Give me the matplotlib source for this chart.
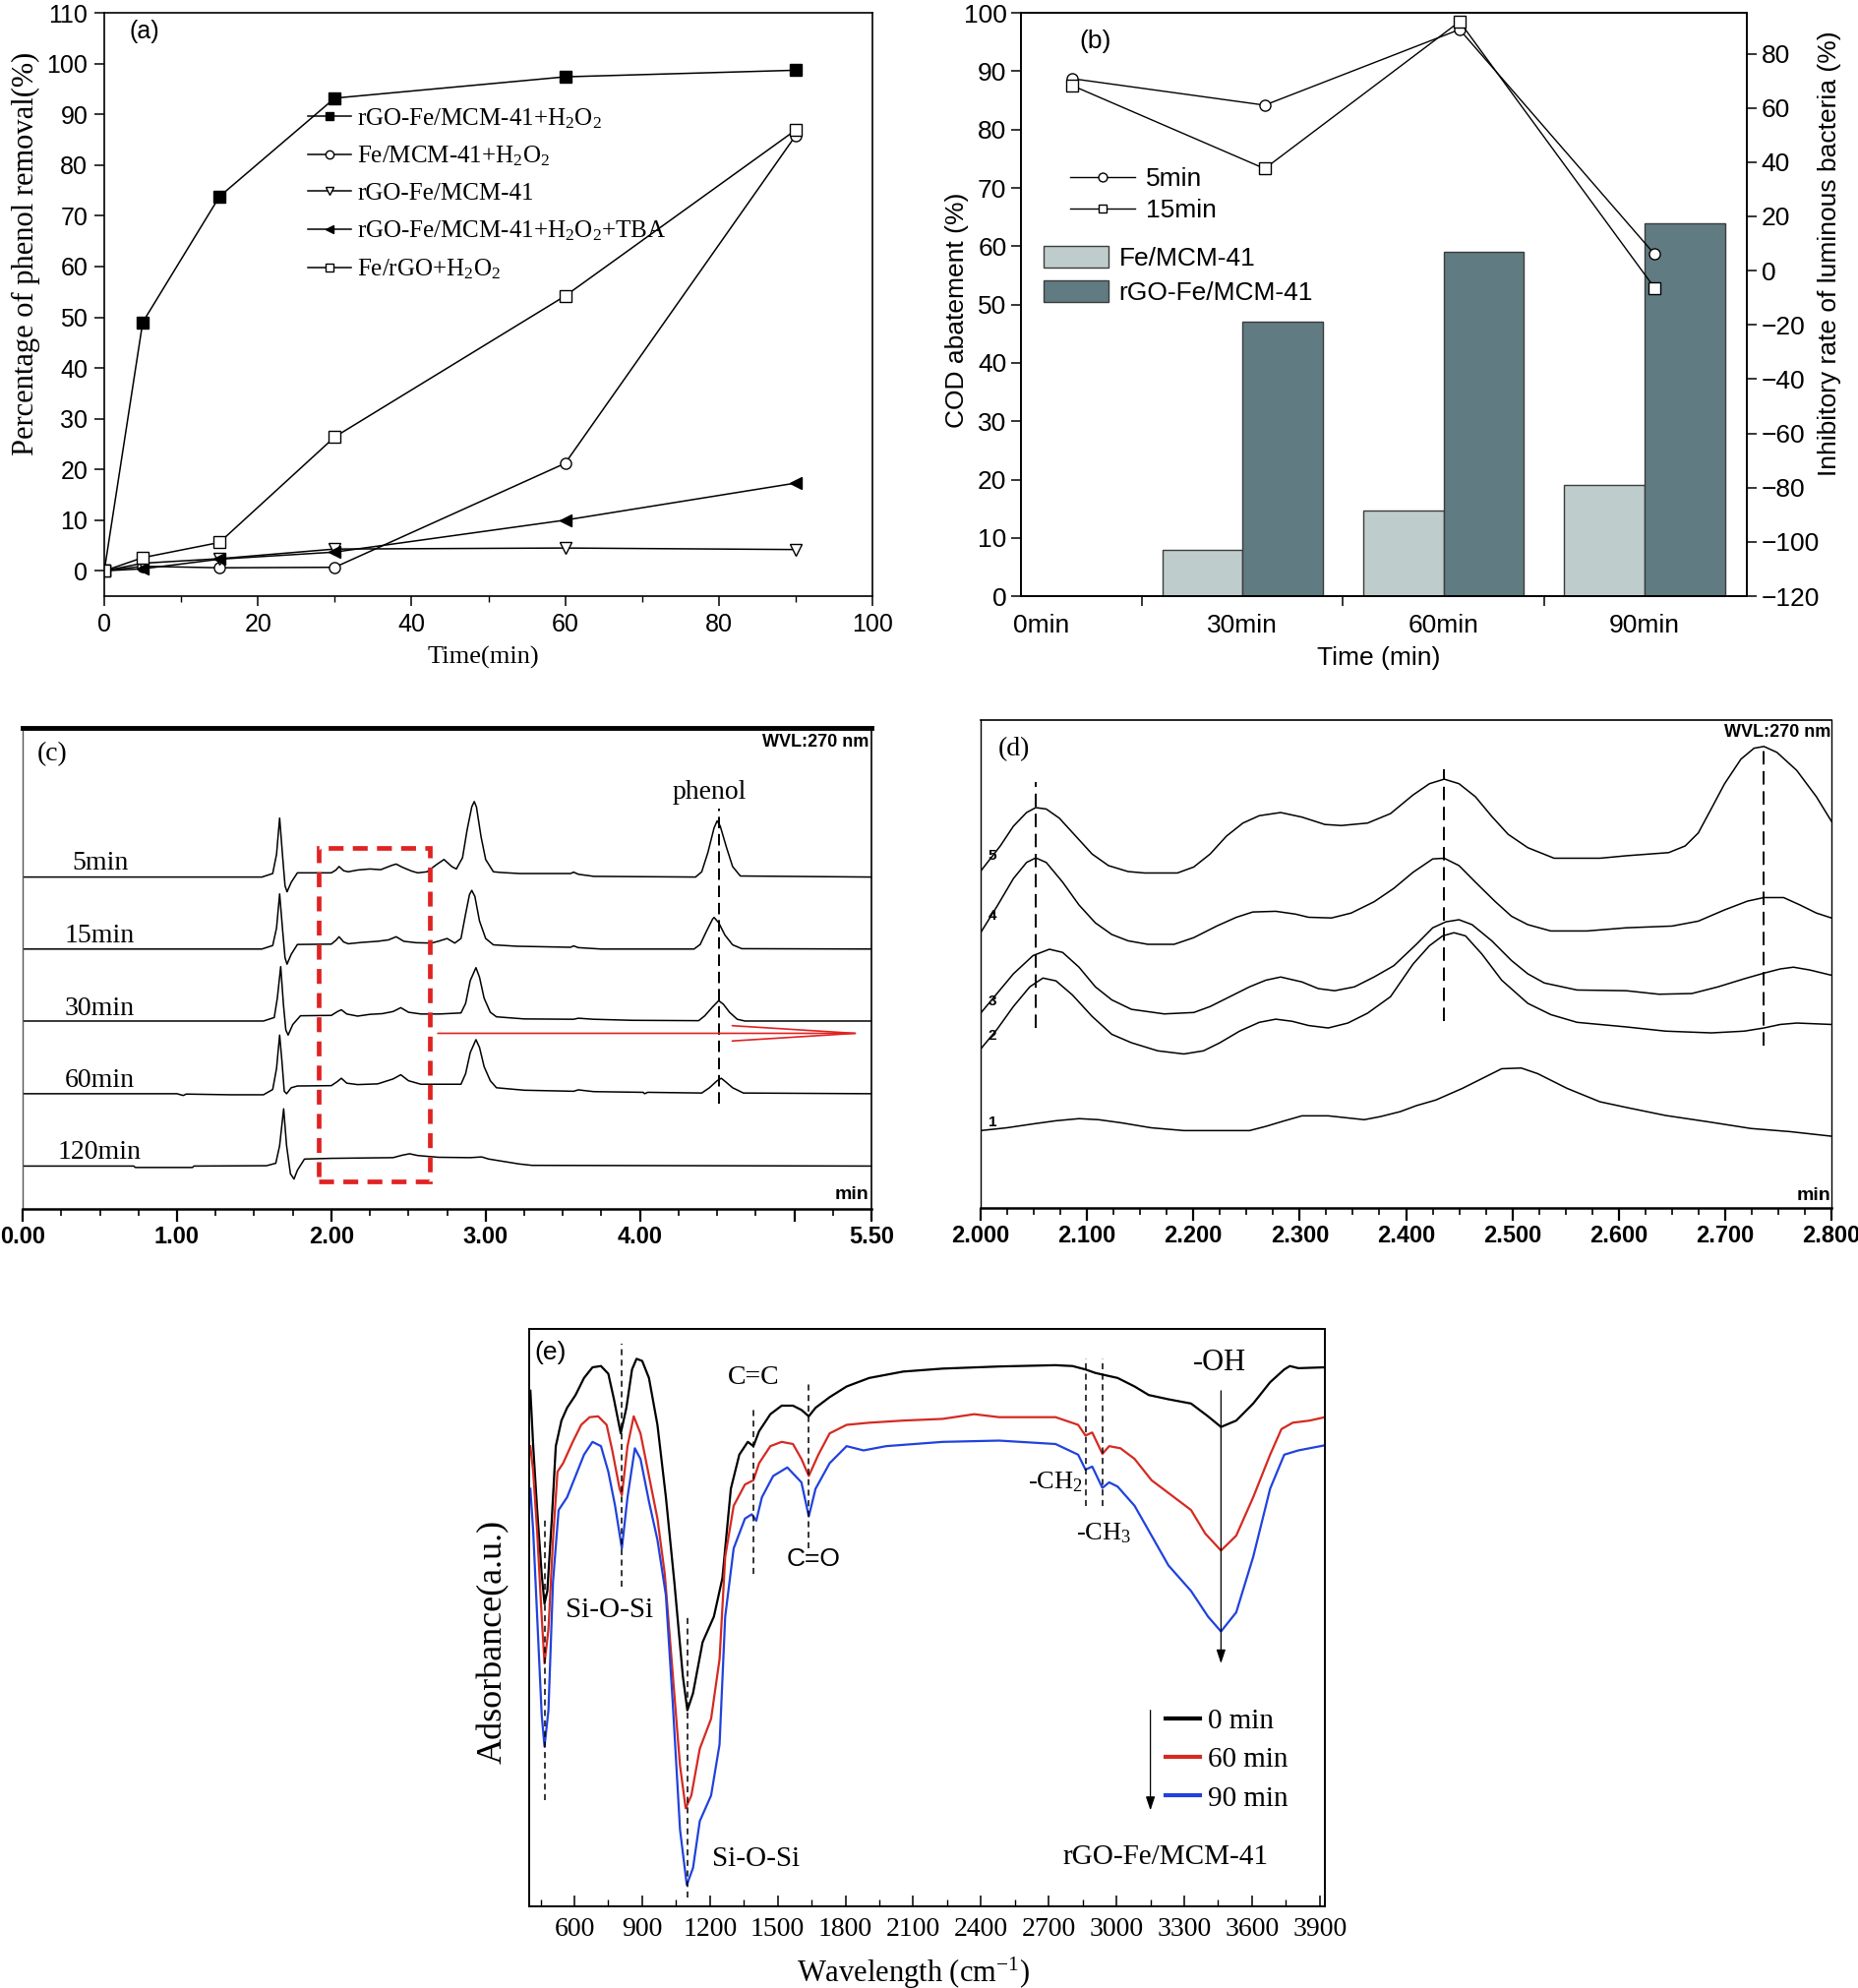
import numpy as np
import matplotlib
matplotlib.use("Agg")
import matplotlib.pyplot as plt
from matplotlib.patches import Rectangle
from matplotlib.lines import Line2D

plt.rcParams['font.family'] = ['Liberation Sans', 'DejaVu Sans']
plt.rcParams['mathtext.fontset'] = 'custom'
plt.rcParams['mathtext.rm'] = 'Liberation Serif'
plt.rcParams['mathtext.it'] = 'Liberation Serif:italic'
plt.rcParams['axes.linewidth'] = 1.2

SERIF = ['Liberation Serif', 'DejaVu Serif']
NARROW = ['Liberation Sans Narrow', 'Liberation Sans', 'DejaVu Sans']

# ---------------- (a) phenol removal ----------------
time_a = [0, 5, 15, 30, 60, 90]
removal_rgo_h2o2 = [0, 49.0, 73.8, 93.2, 97.4, 98.7]
removal_fe_h2o2 = [0, 0.9, 0.6, 0.7, 21.2, 85.8]
removal_rgo = [0, 1.5, 2.4, 4.3, 4.5, 4.2]
removal_rgo_tba = [0, 0.4, 2.3, 3.7, 10.0, 17.3]
removal_fe_rgo_h2o2 = [0, 2.6, 5.6, 26.4, 54.2, 86.9]
a_names = ['rGO-Fe/MCM-41+H$_2$O$_2$', 'Fe/MCM-41+H$_2$O$_2$', 'rGO-Fe/MCM-41',
           'rGO-Fe/MCM-41+H$_2$O$_2$+TBA', 'Fe/rGO+H$_2$O$_2$']

# ---------------- (b) COD + toxicity ----------------
b_categories = ['0min', '30min', '60min', '90min']
cod_fe = [0, 8.0, 14.7, 19.0]
cod_rgo = [0, 47.0, 59.0, 64.0]
tox_x = [0.15, 1.11, 2.08, 3.05]
tox_5min = [70.8, 61.0, 88.9, 6.1]
tox_15min = [68.3, 37.6, 91.8, -6.3]

# ---------------- (c) HPLC chromatograms (time min, signal) ----------------
c_labels = ['5min', '15min', '30min', '60min', '120min']
c_5min = [(0, 94.5), (1.55, 94.5), (1.62, 95.5), (1.645, 101), (1.665, 111.3), (1.685, 100), (1.70, 92),
          (1.713, 90.3), (1.74, 93), (1.78, 95.7), (2.00, 95.7), (2.03, 96.5), (2.05, 97.5), (2.08, 96.3),
          (2.11, 96.0), (2.17, 96.5), (2.25, 96.8), (2.32, 96.6), (2.39, 97.8), (2.42, 98.2), (2.46, 97.3),
          (2.52, 96.2), (2.56, 95.7), (2.62, 96.0), (2.68, 98.0), (2.73, 99.5), (2.78, 97.5), (2.81, 96.8),
          (2.85, 100), (2.88, 108), (2.91, 114.5), (2.926, 116), (2.94, 114.5), (2.97, 106), (3.00, 99.5),
          (3.05, 96.0), (3.10, 95.8), (3.22, 95.5), (3.55, 95.5), (3.57, 95.9), (3.60, 95.3), (3.70, 94.7),
          (4.36, 94.5), (4.40, 96.0), (4.44, 101.5), (4.48, 108.5), (4.50, 110.5), (4.52, 109), (4.56, 103),
          (4.60, 97.5), (4.65, 94.8), (5.5, 94.5)]
c_15min = [(0, 74), (1.55, 74), (1.62, 75), (1.645, 80), (1.665, 89.7), (1.685, 79), (1.70, 71.5), (1.713, 69.7),
           (1.74, 72.5), (1.78, 75.3), (2.00, 75.4), (2.03, 76.5), (2.05, 77.5), (2.08, 76.0), (2.11, 75.5),
           (2.20, 75.9), (2.30, 76.2), (2.37, 76.6), (2.42, 77.5), (2.47, 76.2), (2.55, 75.8), (2.65, 75.7),
           (2.70, 76.3), (2.75, 77.0), (2.80, 75.7), (2.84, 77), (2.87, 84), (2.895, 89.5), (2.91, 90.7),
           (2.93, 89), (2.96, 82), (3.00, 77.0), (3.05, 75.2), (3.20, 74.8), (3.55, 74.5), (3.57, 74.9),
           (3.60, 74.4), (3.75, 74.0), (4.35, 74.0), (4.39, 75.3), (4.43, 79), (4.47, 82.5), (4.48, 83.0),
           (4.51, 81.5), (4.55, 78), (4.60, 75.2), (4.66, 74.1), (5.5, 74.0)]
c_30min = [(0, 53.5), (1.56, 53.5), (1.63, 54.5), (1.65, 60), (1.672, 69.0), (1.69, 58), (1.705, 51), (1.72, 49.5),
           (1.75, 52.5), (1.80, 55.0), (2.00, 55.1), (2.04, 56.2), (2.065, 56.7), (2.10, 55.5), (2.17, 54.9),
           (2.25, 55.4), (2.33, 55.6), (2.40, 56.2), (2.45, 57.3), (2.50, 56.0), (2.58, 55.5), (2.70, 55.5),
           (2.84, 55.8), (2.87, 58.5), (2.90, 65), (2.937, 68.7), (2.96, 66), (2.99, 60), (3.03, 56.0),
           (3.07, 54.7), (3.25, 54.1), (3.57, 54.0), (3.60, 54.3), (3.70, 54.0), (3.95, 53.7), (4.38, 53.6),
           (4.42, 55.0), (4.47, 57.5), (4.51, 59.3), (4.54, 58.3), (4.58, 56.0), (4.63, 54.0), (4.68, 53.5),
           (5.5, 53.5)]
c_60min = [(0, 32.8), (1.0, 32.8), (1.04, 32.3), (1.06, 32.7), (1.35, 32.5), (1.56, 32.5), (1.62, 34), (1.645, 40),
           (1.665, 49.5), (1.68, 42), (1.695, 33.5), (1.71, 32.8), (1.74, 34.5), (1.78, 35.0), (2.00, 35.1),
           (2.04, 36.3), (2.065, 37.2), (2.10, 35.8), (2.17, 35.4), (2.30, 35.6), (2.40, 37.0), (2.45, 38.2),
           (2.50, 36.5), (2.58, 35.5), (2.84, 35.5), (2.87, 38.5), (2.90, 44.5), (2.937, 48.2), (2.96, 46),
           (2.99, 40.5), (3.03, 36.5), (3.07, 34.5), (3.25, 33.8), (3.57, 33.5), (3.60, 33.9), (3.70, 33.4),
           (4.02, 33.2), (4.03, 32.8), (4.05, 33.2), (4.40, 33.0), (4.45, 34.5), (4.50, 36.5), (4.527, 37.2),
           (4.56, 36.0), (4.60, 34.5), (4.67, 33.0), (5.5, 32.8)]
c_120min = [(0, 12.2), (0.72, 12.2), (0.73, 11.8), (1.10, 11.8), (1.11, 12.2), (1.58, 12.3), (1.64, 13.0),
            (1.665, 18), (1.691, 28.5), (1.71, 18), (1.735, 10), (1.758, 8.5), (1.78, 11), (1.826, 14.2),
            (2.00, 14.4), (2.40, 14.6), (2.46, 15.3), (2.507, 15.7), (2.56, 15.2), (2.694, 14.7), (2.90, 14.6),
            (2.974, 14.8), (3.02, 14.2), (3.217, 12.8), (3.30, 12.4), (5.5, 12.2)]
c_traces = [c_5min, c_15min, c_30min, c_60min, c_120min]
c_label_y = [98.5, 77.7, 57.0, 36.5, 16.0]

# ---------------- (d) zoomed chromatograms ----------------
d_labels = ['5', '4', '3', '2', '1']
d_5 = [(2.000, 95.8), (2.0185, 103.0), (2.0308, 108.6), (2.0432, 112.5), (2.0518, 113.9), (2.0617, 113.5),
       (2.074, 110.9), (2.0894, 105.8), (2.1048, 100.7), (2.1202, 97.4), (2.1387, 95.7), (2.1541, 95.3),
       (2.185, 95.3), (2.2004, 97.0), (2.2158, 100.7), (2.2312, 105.8), (2.2466, 109.5), (2.262, 111.6),
       (2.2821, 112.5), (2.3021, 111.2), (2.3237, 109.1), (2.3391, 108.8), (2.3638, 109.5), (2.3854, 112.2),
       (2.4066, 117.5), (2.422, 120.7), (2.4359, 122.0), (2.4498, 120.7), (2.4652, 117.0), (2.4806, 111.4),
       (2.496, 106.3), (2.5145, 102.5), (2.5392, 99.5), (2.5823, 99.5), (2.607, 100.2), (2.647, 101.1),
       (2.6625, 103.0), (2.6748, 106.7), (2.6872, 113.7), (2.6995, 120.7), (2.7149, 127.7), (2.7272, 130.8),
       (2.7365, 131.3), (2.7488, 129.6), (2.7673, 124.5), (2.7858, 117.0), (2.800, 110.0)]
d_4 = [(2.000, 78.3), (2.0154, 85.8), (2.0308, 93.7), (2.0432, 98.3), (2.0518, 99.6), (2.0617, 98.3),
       (2.0771, 92.7), (2.0925, 86.2), (2.1079, 81.1), (2.1233, 77.8), (2.1387, 76.0), (2.1572, 75.0),
       (2.1819, 75.0), (2.2004, 76.9), (2.222, 80.2), (2.2405, 82.7), (2.2559, 84.2), (2.2775, 84.4),
       (2.296, 83.6), (2.3083, 82.7), (2.3299, 82.5), (2.3484, 83.9), (2.3699, 87.1), (2.3884, 90.9),
       (2.4066, 95.5), (2.4251, 99.3), (2.4359, 99.5), (2.4498, 97.4), (2.4652, 92.7), (2.4837, 87.2),
       (2.4991, 83.0), (2.5145, 80.6), (2.5361, 78.8), (2.57, 78.8), (2.607, 79.7), (2.6502, 80.2),
       (2.6748, 81.6), (2.6995, 84.8), (2.7211, 87.3), (2.7365, 88.3), (2.755, 88.3), (2.7704, 86.2),
       (2.7858, 83.9), (2.800, 82.5)]
d_3 = [(2.000, 55.4), (2.0154, 61.0), (2.0308, 66.6), (2.0493, 71.8), (2.0647, 73.6), (2.0771, 72.7),
       (2.0925, 68.5), (2.1079, 62.9), (2.1233, 59.2), (2.1418, 56.5), (2.1726, 55.2), (2.2004, 55.6),
       (2.2158, 57.3), (2.2343, 60.1), (2.2528, 62.9), (2.2682, 64.8), (2.2821, 65.7), (2.3021, 64.3),
       (2.3175, 62.4), (2.3329, 61.8), (2.3515, 62.9), (2.3699, 65.7), (2.3884, 68.9), (2.4097, 75.0),
       (2.4251, 79.7), (2.4374, 81.4), (2.4498, 82.0), (2.4621, 80.6), (2.4806, 76.0), (2.4991, 70.4),
       (2.5145, 66.6), (2.53, 64.0), (2.5608, 62.0), (2.607, 61.8), (2.6378, 60.8), (2.6687, 61.0),
       (2.6933, 62.9), (2.718, 65.2), (2.7365, 66.8), (2.7519, 68.0), (2.7642, 68.5), (2.7796, 67.7),
       (2.800, 66.2)]
d_2 = [(2.000, 45.2), (2.0154, 50.8), (2.0308, 57.3), (2.0462, 62.9), (2.0586, 65.4), (2.0709, 64.6),
       (2.0863, 60.6), (2.1048, 54.5), (2.1233, 49.4), (2.1418, 47.0), (2.1665, 44.7), (2.1911, 43.8),
       (2.2096, 44.7), (2.225, 47.0), (2.2435, 50.3), (2.262, 52.8), (2.2775, 53.7), (2.2929, 53.1),
       (2.3083, 51.9), (2.3268, 51.2), (2.3453, 52.6), (2.3638, 55.4), (2.3854, 60.1), (2.4066, 69.4),
       (2.422, 74.6), (2.4344, 77.4), (2.4451, 78.3), (2.4559, 77.4), (2.4714, 72.2), (2.4899, 64.8),
       (2.5145, 58.2), (2.5361, 55.0), (2.5608, 52.8), (2.607, 51.5), (2.644, 50.3), (2.6872, 49.8),
       (2.718, 50.3), (2.7365, 51.2), (2.7519, 52.2), (2.7673, 52.6), (2.800, 52.2)]
d_1 = [(2.000, 22.0), (2.0247, 22.8), (2.0493, 23.9), (2.0709, 24.8), (2.0925, 25.4), (2.111, 25.1),
       (2.1326, 24.2), (2.1603, 22.8), (2.1911, 22.0), (2.2528, 22.0), (2.2682, 23.2), (2.2836, 24.6),
       (2.3021, 26.2), (2.3268, 26.2), (2.3453, 25.6), (2.3607, 25.1), (2.3761, 26.0), (2.3946, 27.4),
       (2.4097, 29.1), (2.428, 30.7), (2.4529, 34.0), (2.4714, 36.8), (2.4899, 39.6), (2.5083, 39.8),
       (2.5238, 38.2), (2.5515, 34.0), (2.5823, 30.2), (2.607, 28.6), (2.644, 26.3), (2.6841, 24.5),
       (2.7242, 22.6), (2.7611, 21.7), (2.800, 20.4)]
d_traces = [d_5, d_4, d_3, d_2, d_1]
d_label_y = [100.2, 83.0, 58.7, 48.9, 24.2]
d_marks = [(2.0518, 51.2, 121.2), (2.4359, 53.1, 124.9), (2.7359, 46.3, 131.9)]

# ---------------- (e) FTIR ----------------
e_0min = [(405, 121), (417.5, 108), (435, 93), (455, 78), (467.5, 71), (480, 74), (500, 91), (517.5, 108),
          (542.5, 114), (567.5, 117), (605, 120), (642.5, 124), (680, 126.5), (717.5, 126.8), (750, 125),
          (775, 119), (805, 111), (830, 117), (855, 126), (875, 128.5), (900, 128), (930, 124), (967.5, 113),
          (1005, 96), (1042.5, 76), (1080, 54), (1100, 46), (1125, 50), (1167.5, 62), (1217.5, 68), (1255, 77),
          (1292.5, 98), (1330, 106), (1367.5, 109), (1392.5, 108), (1417.5, 111.5), (1467.5, 115.5),
          (1517.5, 117.5), (1567.5, 117.5), (1605, 116.5), (1637.5, 115), (1667.5, 117), (1730, 119.5),
          (1805, 122), (1905, 124), (2055, 125.5), (2230, 126.2), (2480, 126.7), (2730, 127), (2805, 126.8),
          (2862.5, 126), (2905, 125.2), (2937.5, 124.8), (3005, 124), (3080, 122), (3142.5, 120), (3230, 119),
          (3330, 118), (3405, 115), (3462.5, 112.5), (3530, 114), (3605, 118), (3680, 123), (3742.5, 126),
          (3767.5, 126.8), (3805, 126.3), (3922.5, 126.5)]
e_60min = [(405, 108), (417.5, 102), (435, 88), (455, 68), (467.5, 57), (485, 65), (505, 86), (525, 102),
           (550, 104), (592.5, 109), (630, 113), (667.5, 114.8), (705, 115), (742.5, 113), (767.5, 107), (800, 98),
           (810, 96.5), (835, 108), (862.5, 115), (892.5, 111), (930, 101), (967.5, 91), (1000, 78), (1030, 58),
           (1067.5, 33), (1092.5, 23), (1117.5, 26), (1155, 37), (1205, 44), (1242.5, 58), (1267.5, 82),
           (1305, 94), (1355, 99), (1392.5, 100), (1417.5, 104), (1467.5, 108), (1517.5, 109), (1567.5, 108.5),
           (1605, 105), (1637.5, 101), (1680, 106), (1730, 111), (1805, 113), (1905, 113.5), (2055, 114),
           (2230, 114.4), (2370, 115.5), (2480, 114.8), (2730, 114.8), (2830, 113), (2862.5, 110.5),
           (2892.5, 111.2), (2937.5, 106.2), (2967.5, 108), (3017.5, 107.5), (3080, 105), (3155, 100),
           (3255, 96), (3330, 93), (3392.5, 87.5), (3462.5, 83.5), (3530, 87), (3605, 96), (3680, 106),
           (3730, 112), (3780, 113.5), (3855, 114), (3922.5, 114.8)]
e_90min = [(405, 98), (417.5, 88), (435, 68), (455, 45), (467.5, 37.5), (485, 46), (505, 76), (530, 93),
           (567.5, 96), (605, 101), (642.5, 106), (680, 109), (717.5, 108), (750, 102), (780, 94), (810, 84),
           (835, 96), (867.5, 107.5), (892.5, 105), (930, 95), (967.5, 86), (1005, 73), (1035, 48), (1067.5, 18),
           (1097.5, 5), (1125, 9), (1155, 20), (1205, 26), (1242.5, 38), (1267.5, 68), (1305, 84), (1355, 91),
           (1385, 92), (1405, 90.5), (1430, 96), (1480, 101), (1542.5, 103), (1605, 99.5), (1637.5, 91.5),
           (1667.5, 98), (1730, 104), (1805, 108), (1880, 107), (1980, 108), (2230, 109), (2480, 109.3),
           (2730, 108.5), (2830, 106), (2862.5, 102.5), (2892.5, 103.2), (2937.5, 98.2), (2967.5, 99.5),
           (3005, 98.5), (3080, 94), (3155, 87), (3230, 80), (3330, 74), (3405, 68), (3462.5, 64.5), (3530, 69),
           (3605, 82), (3680, 98), (3742.5, 106), (3805, 107), (3922.5, 108.2)]
e_spectra = [(e_0min, 'black', '0 min'), (e_60min, '#d42a22', '60 min'), (e_90min, '#2142dc', '90 min')]
e_marks = [(467.5, 25, 91.5), (810, 75, 132), (1100, 2, 68.5), (1392.5, 78, 117), (1637.5, 84, 123.5),
           (2862.5, 94, 128.5), (2937.5, 94, 128.5)]
e_ticks = [600, 900, 1200, 1500, 1800, 2100, 2400, 2700, 3000, 3300, 3600, 3900]

fig = plt.figure(figsize=(18.9, 20.21), dpi=100)

# =============== (a) ===============
axa = fig.add_axes([0.0561, 0.7001, 0.4132, 0.2934])
a_series = [(removal_rgo_h2o2, 's', 'black'), (removal_fe_h2o2, 'o', 'white'), (removal_rgo, 'v', 'white'),
            (removal_rgo_tba, '<', 'black'), (removal_fe_rgo_h2o2, 's', 'white')]
a_handles = []
for (vals, mk, face), name in zip(a_series, a_names):
    axa.plot(time_a, vals, '-', marker=mk, color='black', mfc=face, ms=8, lw=1.1)
    a_handles.append(Line2D([], [], color='black', lw=1.1, marker=mk, mfc=face, ms=6, label=name))
axa.set_xlim(0, 100)
axa.set_ylim(-5, 110)
axa.set_xticks(range(0, 101, 20))
axa.set_xticks(range(10, 100, 20), minor=True)
axa.set_yticks(range(0, 111, 10))
axa.tick_params(which='major', direction='out', length=7, width=1.1, labelsize=18, pad=5)
axa.tick_params(which='minor', direction='out', length=4, width=1.0)
axa.set_xlabel('Time(min)', family=SERIF, fontsize=19)
axa.set_ylabel('Percentage of phenol removal(%)', family=SERIF, fontsize=22)
axa.xaxis.set_label_coords(0.493, -0.086)
axa.yaxis.set_label_coords(-0.083, 0.587)
axa.text(0.032, 0.968, '(a)', transform=axa.transAxes, fontsize=18, va='center', ha='left')
axa.legend(handles=a_handles, loc='upper left', bbox_to_anchor=(0.265, 0.84), frameon=False, borderpad=0,
           borderaxespad=0, prop={'family': SERIF, 'size': 18}, handlelength=1.75, handletextpad=0.25,
           labelspacing=0.57, numpoints=1)

# =============== (b) ===============
axb = fig.add_axes([0.5492, 0.7001, 0.3905, 0.2934])
xb = np.arange(len(b_categories))
axb.bar(xb - 0.2, cod_fe, width=0.4, color='#bfcccc', edgecolor='#3c3c3c', lw=1.0, label='Fe/MCM-41')
axb.bar(xb + 0.2, cod_rgo, width=0.4, color='#607b81', edgecolor='#3c3c3c', lw=1.0, label='rGO-Fe/MCM-41')
axb.set_xlim(-0.103, 3.51)
axb.set_ylim(0, 100)
axb.set_yticks(range(0, 101, 10))
axb.set_xticks(xb)
axb.set_xticklabels(b_categories)
axb.set_xticks([0.5, 1.5, 2.5], minor=True)
axb.tick_params(axis='x', which='major', length=0, labelsize=19, pad=13)
axb.tick_params(axis='x', which='minor', direction='out', length=7, width=1.1)
axb.tick_params(axis='y', direction='out', length=7, width=1.1, labelsize=19)
axb.set_xlabel('Time (min)', fontsize=19)
axb.set_ylabel('COD abatement (%)', fontsize=19)
axb.xaxis.set_label_coords(0.493, -0.086)
axb.yaxis.set_label_coords(-0.072, 0.49)
axb.text(0.08, 0.951, '(b)', transform=axb.transAxes, fontsize=19, va='center', ha='left')
axb.legend(loc='upper left', bbox_to_anchor=(0.031, 0.60), frameon=False, borderpad=0, borderaxespad=0,
           fontsize=19, handlelength=2.5, handleheight=0.9, handletextpad=0.4, labelspacing=0.35)

axb2 = axb.twinx()
axb2.plot(tox_x, tox_5min, '-o', color='black', mfc='white', ms=8, lw=1.0, label='5min')
axb2.plot(tox_x, tox_15min, '-s', color='black', mfc='white', ms=8, lw=1.0, label='15min')
axb2.set_ylim(-120, 95)
axb2.set_yticks(range(-120, 81, 20))
axb2.tick_params(axis='y', direction='out', length=7, width=1.1, labelsize=19)
axb2.set_ylabel('Inhibitory rate of luminous bacteria (%)', fontsize=19, rotation=90)
axb2.yaxis.set_label_coords(1.098, 0.587)
axb2.legend(loc='upper left', bbox_to_anchor=(0.068, 0.735), frameon=False, borderpad=0, borderaxespad=0,
            fontsize=19, handlelength=2.5, handletextpad=0.4, labelspacing=0.3, numpoints=1,
            markerscale=0.8)

# =============== (c) ===============
axc = fig.add_axes([0.0122, 0.3919, 0.4566, 0.2420])
for trace, lab, ly in zip(c_traces, c_labels, c_label_y):
    tx, ty = zip(*trace)
    axc.plot(tx, ty, color='black', lw=1.1)
    axc.text(0.5, ly, lab, family=SERIF, fontsize=20, ha='center', va='center')
axc.add_patch(Rectangle((1.92, 7.7), 0.72, 95.0, fill=False, ec='#e02222', lw=3.4,
                        ls=(0, (3.2, 2.0)), zorder=5))
axc.annotate('', xy=(5.48, 50.0), xytext=(2.69, 50.0),
             arrowprops=dict(arrowstyle='->,head_length=4.5,head_width=0.28', color='#e02222', lw=1.2,
                             mutation_scale=20, shrinkA=0, shrinkB=0))
axc.plot([4.51, 4.51], [30, 114], color='black', lw=1.4, dashes=(6, 3))
axc.text(4.45, 118.5, 'phenol', family=SERIF, fontsize=20, ha='center', va='center')
axc.text(0.19, 129.5, '(c)', family=SERIF, fontsize=20, ha='center', va='center')
axc.text(5.48, 133, 'WVL:270 nm', family=NARROW, fontweight='bold', fontsize=13, ha='right', va='center')
axc.text(5.48, 4.0, 'min', family=NARROW, fontweight='bold', fontsize=14, ha='right', va='center')
axc.set_xlim(0, 5.5)
axc.set_ylim(0, 137)
axc.set_yticks([])
axc.set_xticks([0, 1, 2, 3, 4, 5, 5.5])
axc.set_xticklabels(['0.00', '1.00', '2.00', '3.00', '4.00', '', '5.50'])
axc.set_xticks(np.arange(0, 5.5, 0.25), minor=True)
axc.tick_params(axis='x', which='major', direction='out', length=9, width=1.6, labelsize=17, pad=3)
axc.tick_params(axis='x', which='minor', direction='out', length=5, width=1.2)
for lab in axc.get_xticklabels():
    lab.set_family(NARROW)
    lab.set_fontweight('bold')
axc.spines['top'].set_linewidth(3.5)
axc.spines['bottom'].set_linewidth(1.8)
axc.spines['left'].set_color('#555555')
axc.spines['left'].set_linewidth(1.0)
axc.spines['right'].set_linewidth(1.2)

# =============== (d) ===============
axd = fig.add_axes([0.5275, 0.3924, 0.4577, 0.2452])
for trace, lab, ly in zip(d_traces, d_labels, d_label_y):
    tx, ty = zip(*trace)
    axd.plot(tx, ty, color='black', lw=1.1)
    axd.text(2.011, ly, lab, family=NARROW, fontweight='bold', fontsize=11, ha='center', va='center')
for mx, y0, y1 in d_marks:
    axd.plot([mx, mx], [y0, y1], color='black', lw=1.4, dashes=(7, 3.5))
axd.text(2.031, 130.5, '(d)', family=SERIF, fontsize=20, ha='center', va='center')
axd.text(2.799, 135.2, 'WVL:270 nm', family=NARROW, fontweight='bold', fontsize=13, ha='right', va='center')
axd.text(2.799, 3.5, 'min', family=NARROW, fontweight='bold', fontsize=14, ha='right', va='center')
axd.set_xlim(2.0, 2.8)
axd.set_ylim(0, 138.7)
axd.set_yticks([])
d_major = np.round(np.arange(2.0, 2.8001, 0.1), 3)
axd.set_xticks(d_major)
axd.set_xticklabels(['%.3f' % v for v in d_major])
axd.set_xticks(np.arange(2.0, 2.8001, 0.025), minor=True)
axd.tick_params(axis='x', which='major', direction='out', length=9, width=1.6, labelsize=17, pad=3)
axd.tick_params(axis='x', which='minor', direction='out', length=5, width=1.2)
for lab in axd.get_xticklabels():
    lab.set_family(NARROW)
    lab.set_fontweight('bold')
axd.spines['bottom'].set_linewidth(1.8)
axd.spines['left'].set_linewidth(1.0)
axd.spines['top'].set_linewidth(1.2)
axd.spines['right'].set_linewidth(1.0)

# =============== (e) ===============
axe = fig.add_axes([0.2847, 0.0411, 0.4280, 0.2904])
for spec, col, lab in e_spectra:
    wx, wy = zip(*spec)
    axe.plot(wx, wy, color=col, lw=1.6, label=lab)
for mx, y0, y1 in e_marks:
    axe.plot([mx, mx], [y0, y1], color='black', lw=1.1, dashes=(4, 3))
axe.annotate('', xy=(3462.5, 57), xytext=(3462.5, 121),
             arrowprops=dict(arrowstyle='-|>,head_length=0.6,head_width=0.2', color='black', lw=0.9,
                             mutation_scale=14, shrinkA=0, shrinkB=0))
axe.annotate('', xy=(3150, 22.5), xytext=(3150, 46),
             arrowprops=dict(arrowstyle='-|>,head_length=0.6,head_width=0.2', color='black', lw=0.9,
                             mutation_scale=14, shrinkA=0, shrinkB=0))
axe.text(3455, 127.5, '-OH', family=SERIF, fontsize=22, ha='center', va='center')
axe.text(1392.5, 124, 'C=C', family=SERIF, fontsize=20, ha='center', va='center')
axe.text(1660, 81.5, 'C=O', fontsize=19, ha='center', va='center')
axe.text(755, 69.5, 'Si-O-Si', family=SERIF, fontsize=21, ha='center', va='center')
axe.text(1405, 11, 'Si-O-Si', family=SERIF, fontsize=21, ha='center', va='center')
axe.text(2730, 99.5, '-CH$_2$', family=SERIF, fontsize=19, ha='center', va='center')
axe.text(2942.5, 87.5, '-CH$_3$', family=SERIF, fontsize=19, ha='center', va='center')
axe.text(3217.5, 11.5, 'rGO-Fe/MCM-41', family=SERIF, fontsize=21, ha='center', va='center')
axe.text(492, 130, '(e)', fontsize=19, ha='center', va='center')
leg = axe.legend(loc='upper left', bbox_to_anchor=(0.80, 0.343), frameon=False, borderpad=0, borderaxespad=0,
                 prop={'family': SERIF, 'size': 21}, handlelength=1.2, handletextpad=0.25, labelspacing=0.44)
for line in leg.get_lines():
    line.set_linewidth(3.0)
axe.set_xlim(400, 3922.5)
axe.set_ylim(0, 135.5)
axe.set_yticks([])
axe.set_xticks(e_ticks)
axe.set_xticks(range(450, 3900, 300), minor=True)
axe.tick_params(axis='x', which='major', direction='in', length=8, width=1.1, labelsize=20, pad=8)
axe.tick_params(axis='x', which='minor', direction='in', length=5, width=1.0)
for lab in axe.get_xticklabels():
    lab.set_family(SERIF)
axe.set_xlabel('Wavelength (cm$^{-1}$)', family=SERIF, fontsize=22)
axe.set_ylabel('Adsorbance(a.u.)', family=SERIF, fontsize=26)
axe.xaxis.set_label_coords(0.482, -0.085)
axe.yaxis.set_label_coords(-0.025, 0.458)
for sp in axe.spines.values():
    sp.set_linewidth(1.4)

fig.savefig('out.png', dpi=100)
